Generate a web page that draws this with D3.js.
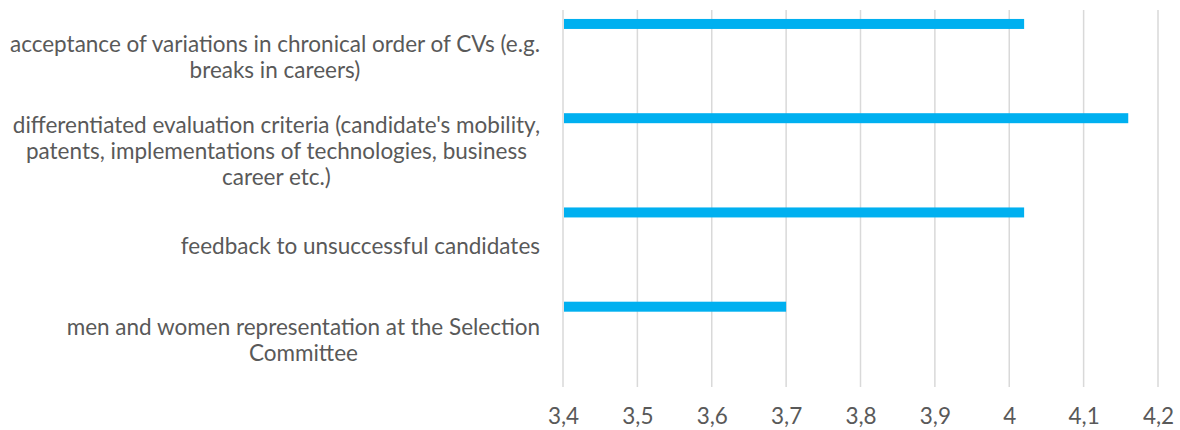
<!DOCTYPE html>
<html><head><meta charset="utf-8">
<script src="https://cdn.jsdelivr.net/npm/d3@7"></script>
<style>body{margin:0;background:#fff}svg{display:block}</style>
</head><body>
<svg id="chart" width="1180" height="430"></svg>
<script>
const categories = [
  ["acceptance of variations in chronical order of CVs (e.g.", "breaks in careers)"],
  ["differentiated evaluation criteria (candidate's mobility,", "patents, implementations of technologies, business", "career etc.)"],
  ["feedback to unsuccessful candidates"],
  ["men and women representation at the Selection", "Committee"]
];
const values = [4.02, 4.16, 4.02, 3.70];
const tickValues = [3.4, 3.5, 3.6, 3.7, 3.8, 3.9, 4.0, 4.1, 4.2];

(function(){
const svg = d3.select("#chart");
const font = "Lato, 'Open Sans', sans-serif";
const fontSize = 22.5;
const textColor = "#595959";
const plotLeft = 563, plotRight = 1158, plotTop = 10, plotBottom = 387;

const x = d3.scaleLinear().domain([3.4, 4.2]).range([plotLeft, plotRight]);
const y = d3.scaleBand().domain(d3.range(categories.length)).range([plotTop, plotBottom]).padding(0);

// gridlines
svg.append("g").selectAll("line").data(tickValues).join("line")
  .attr("x1", d => x(d)).attr("x2", d => x(d))
  .attr("y1", plotTop).attr("y2", plotBottom)
  .attr("stroke", "#d9d9d9").attr("stroke-width", 1.5);

// bars
svg.append("g").selectAll("rect").data(values).join("rect")
  .attr("x", x(3.4) + 1)
  .attr("y", (d, i) => y(i) + y.bandwidth() * 0.095)
  .attr("width", d => x(d) - x(3.4) - 1)
  .attr("height", y.bandwidth() * 0.106)
  .attr("fill", "#00b0f0");

// x axis labels
const fmt = d => d3.format(".1~f")(d).replace(".", ",");
const xAxis = d3.axisBottom(x).tickValues(tickValues).tickFormat(fmt).tickSize(0).tickPadding(0);
const gx = svg.append("g").attr("transform", `translate(0,${plotBottom + 21})`).call(xAxis);
gx.select(".domain").remove();
gx.selectAll("text").attr("font-family", font).attr("font-size", fontSize).attr("fill", textColor);

// category labels
const labelRight = 540, lineH = 26;
const gl = svg.append("g");
categories.forEach((lines, i) => {
  const cy = y(i) + y.bandwidth() / 2;
  const t = gl.append("text").attr("font-family", font).attr("font-size", fontSize).attr("fill", textColor)
    .attr("text-anchor", "middle");
  lines.forEach((ln, k) => t.append("tspan").text(ln).attr("dy", k === 0 ? 0 : lineH));
  let maxW = 0;
  t.selectAll("tspan").each(function(){ maxW = Math.max(maxW, this.getComputedTextLength()); });
  const cx = labelRight - maxW / 2;
  const y0 = cy - (lines.length - 1) * lineH / 2 + 8;
  t.selectAll("tspan").attr("x", cx);
  t.select("tspan").attr("y", y0);
});
})();
</script>
</body></html>
